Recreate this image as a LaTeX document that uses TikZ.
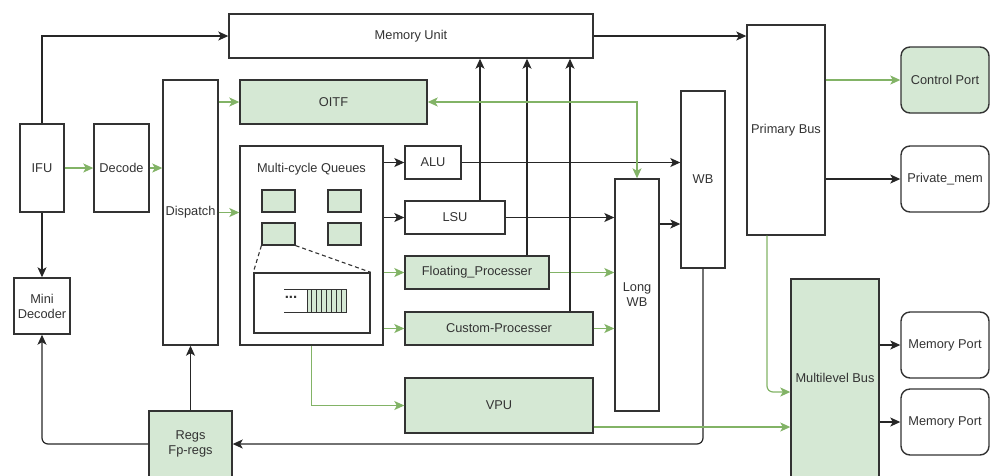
\documentclass[tikz,border=0pt]{standalone}
\usepackage{fontspec}
\setmainfont{Liberation Sans}
\usetikzlibrary{arrows.meta}

\definecolor{vertfond}{HTML}{D5E8D4}
\definecolor{vertfleche}{HTML}{82B366}
\definecolor{trait}{HTML}{333333}

\tikzset{
  bloc/.style 2 args={draw=trait, line width=1.4pt, fill=white, text=trait,
    minimum width=#1, minimum height=#2, inner sep=0pt, align=center,
    font=\fontsize{12.8}{15}\selectfont},
  blocvert/.style 2 args={bloc={#1}{#2}, fill=vertfond},
  port/.style={bloc={88pt}{66pt}, rounded corners=9pt},
  pointe/.style={Stealth[length=10pt,width=9pt,inset=2.5pt]},
  fleche/.style={draw=black!85, line width=1.2pt, -{Stealth[length=10pt,width=9pt,inset=2.5pt]}},
  flechev/.style={fleche, draw=vertfleche, -{Stealth[length=10pt,width=9pt,inset=2.5pt,color=vertfleche]}}
}

\begin{document}
\begin{tikzpicture}[x=1pt,y=-1pt]

% Cadre
\useasboundingbox (0,0) rectangle (993,475);
\clip (0,0) rectangle (993,475);

% Etage avant
\node[bloc={364pt}{44pt}] (mem) at (411,36) {Memory Unit};
\node[bloc={44pt}{88pt}] (ifu) at (42,168) {IFU};
\node[bloc={55pt}{88pt}] (decode) at (121.5,168) {Decode};
\node[bloc={55pt}{265pt}] (dispatch) at (190.5,212.5) {Dispatch};
\node[bloc={56pt}{56pt}] (mini) at (42,306) {Mini\\Decoder};
\node[blocvert={83pt}{66pt}] (regs) at (190.5,444) {Regs\\Fp-regs};
\node[blocvert={187pt}{44pt}] (oitf) at (333.5,102) {OITF};

% Files d'attente
\node[bloc={143pt}{199pt}] (mcq) at (311.5,245.5) {};
\node[text=trait, font=\fontsize{12.8}{15}\selectfont] (titre) at (311.5,169) {Multi-cycle Queues};
\node[blocvert={33pt}{22pt}, line width=1.2pt] (q1) at (278.5,201) {};
\node[blocvert={33pt}{22pt}, line width=1.2pt] (q2) at (344.5,201) {};
\node[blocvert={33pt}{22pt}, line width=1.2pt] (q3) at (278.5,234) {};
\node[blocvert={33pt}{22pt}, line width=1.2pt] (q4) at (344.5,234) {};
\node[bloc={116pt}{60pt}] (loupe) at (312,303) {};
\draw[trait, line width=1.1pt, dash pattern=on 4pt off 3pt] (q3.south west) -- (loupe.north west);
\draw[trait, line width=1.1pt, dash pattern=on 4pt off 3pt] (q3.south east) -- (loupe.north east);
\draw[trait, line width=1pt] (284,289) -- (307,289);
\draw[trait, line width=1pt] (284,312) -- (307,312);
\draw[trait, line width=1pt, fill=vertfond] (307,289) rectangle (346,312);
\foreach \i in {1,...,7}
  \draw[trait, line width=0.9pt] (307+\i*4.875,289) -- (307+\i*4.875,312);
\node[font=\fontsize{15}{15}\selectfont\bfseries, text=trait] (points) at (291,297) {...};

% Unites
\node[bloc={56pt}{33pt}] (alu) at (433,162.5) {ALU};
\node[bloc={100pt}{33pt}] (lsu) at (455,217.5) {LSU};
\node[blocvert={144pt}{33pt}] (fpu) at (477,272.5) {Floating\_Processer};
\node[blocvert={188pt}{33pt}] (custom) at (499,328.5) {Custom-Processer};
\node[blocvert={188pt}{55pt}] (vpu) at (499,405.5) {VPU};
\node[bloc={44pt}{232pt}] (lwb) at (637,295) {Long\\WB};
\node[bloc={44pt}{177pt}] (wb) at (703,179.5) {WB};

% Bus et ports
\node[bloc={78pt}{210pt}] (pbus) at (786,130) {Primary Bus};
\node[blocvert={88pt}{198pt}] (mbus) at (835,378) {Multilevel Bus};
\node[port, fill=vertfond] (ctrl) at (945,80) {Control Port};
\node[port] (pmem) at (945,179) {Private\_mem};
\node[port] (mport1) at (945,345) {Memory Port};
\node[port] (mport2) at (945,422) {Memory Port};

% Connexions avant
\draw[fleche] (ifu.north) |- (mem.west);
\draw[flechev] (ifu.east) -- (decode.west);
\draw[flechev] (decode.east) -- (dispatch.west |- decode.east);
\draw[flechev] (dispatch.east |- oitf.west) -- (oitf.west);
\draw[flechev] (dispatch.east) -- (mcq.west |- dispatch.east);
\draw[fleche] (ifu.south) -- (mini.north);
\draw[fleche, rounded corners=6pt] (regs.west) -| (mini.south);
\draw[fleche] (regs.north) -- (dispatch.south);

% Connexions unites
\draw[fleche] (mcq.east |- alu.west) -- (alu.west);
\draw[fleche] (mcq.east |- lsu.west) -- (lsu.west);
\draw[flechev] (mcq.east |- fpu.west) -- (fpu.west);
\draw[flechev] (mcq.east |- custom.west) -- (custom.west);
\draw[flechev] (mcq.south) |- (vpu.west);
\draw[fleche] (alu.east) -- (wb.west |- alu.east);
\draw[fleche] (lsu.east) -- (lwb.west |- lsu.east);
\draw[fleche] (lwb.east |- 0,224) -- (wb.west |- 0,224);
\draw[flechev] (fpu.east) -- (lwb.west |- fpu.east);
\draw[flechev] (custom.east) -- (lwb.west |- custom.east);
\draw[fleche] (lsu.north -| 480,0) -- (mem.south -| 480,0);
\draw[fleche] (fpu.north -| 527,0) -- (mem.south -| 527,0);
\draw[fleche] (custom.north -| 570,0) -- (mem.south -| 570,0);
\draw[flechev, {Stealth[length=10pt,width=9pt,inset=2.5pt,color=vertfleche]}-{Stealth[length=10pt,width=9pt,inset=2.5pt,color=vertfleche]}] (oitf.east) -| (lwb.north);
\draw[fleche, rounded corners=6pt] (wb.south) |- (regs.east);

% Connexions bus
\draw[fleche] (mem.east) -- (pbus.west |- mem.east);
\draw[flechev] (pbus.east |- ctrl.west) -- (ctrl.west);
\draw[fleche] (pbus.east |- pmem.west) -- (pmem.west);
\draw[flechev, rounded corners=6pt] (pbus.south -| 767,0) |- (mbus.west |- 0,392);
\draw[flechev] (vpu.east |- 0,427) -- (mbus.west |- 0,427);
\draw[fleche] (mbus.east |- mport1.west) -- (mport1.west);
\draw[fleche] (mbus.east |- mport2.west) -- (mport2.west);

\end{tikzpicture}
\end{document}
